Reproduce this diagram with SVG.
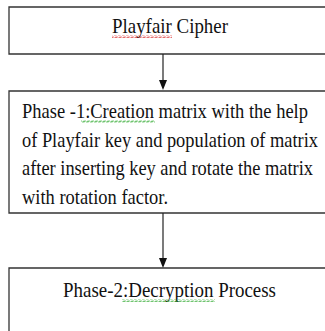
<svg xmlns="http://www.w3.org/2000/svg" width="325" height="331" viewBox="0 0 325 331">
<style>
.box{fill:#fff;stroke:#333;stroke-width:1.3}
.t{font-family:"Liberation Serif","Times New Roman",serif;font-size:17.5px;fill:#111}
.big{font-size:19px}
.con{stroke:#222;stroke-width:1.2;fill:none}
.head{fill:#111}
</style>
<defs>
<pattern id="wr" width="4" height="3" patternUnits="userSpaceOnUse"><path d="M0,2.5 L1,0.5 L3,2.5 L4,0.5" fill="none" stroke="#d33" stroke-width="0.7"/></pattern>
<pattern id="wg" width="4" height="3" patternUnits="userSpaceOnUse"><path d="M0,2.5 L1,0.5 L3,2.5 L4,0.5" fill="none" stroke="#3a3" stroke-width="0.7"/></pattern>
</defs>
<rect width="325" height="331" fill="#fff"/>
<g id="node-playfair">
<path class="box" d="M325,7 H9 V54 H325"/>
<text class="t big" transform="translate(112,33) scale(1,1.15)" textLength="116" lengthAdjust="spacingAndGlyphs">Playfair Cipher</text>
<rect x="112" y="35" width="60" height="3" fill="url(#wr)"/>
</g>
<g id="node-phase1">
<path class="box" d="M325,91 H9 V213 H325"/>
<text class="t" transform="translate(22,118) scale(1,1.15)" textLength="286" lengthAdjust="spacingAndGlyphs">Phase -1:Creation matrix with the help</text>
<text class="t" transform="translate(22,146.5) scale(1,1.15)" textLength="296" lengthAdjust="spacingAndGlyphs">of Playfair key and population of matrix</text>
<text class="t" transform="translate(22,175) scale(1,1.15)" textLength="291" lengthAdjust="spacingAndGlyphs">after inserting key and rotate the matrix</text>
<text class="t" transform="translate(22,203.5) scale(1,1.15)" textLength="146" lengthAdjust="spacingAndGlyphs">with rotation factor.</text>
<rect x="81" y="120" width="74" height="3" fill="url(#wg)"/>
</g>
<g id="node-phase2">
<path class="box" d="M325,268 H9 V331"/>
<text class="t big" transform="translate(63,297) scale(1,1.15)" textLength="213" lengthAdjust="spacingAndGlyphs">Phase-2:Decryption Process</text>
<rect x="122" y="299" width="93" height="3" fill="url(#wg)"/>
</g>
<g id="connectors">
<line class="con" x1="163" y1="54" x2="163" y2="81"/>
<polygon class="head" points="159,80 167,80 163,90"/>
<line class="con" x1="163" y1="213" x2="163" y2="259"/>
<polygon class="head" points="159,258 167,258 163,268"/>
</g>
</svg>
